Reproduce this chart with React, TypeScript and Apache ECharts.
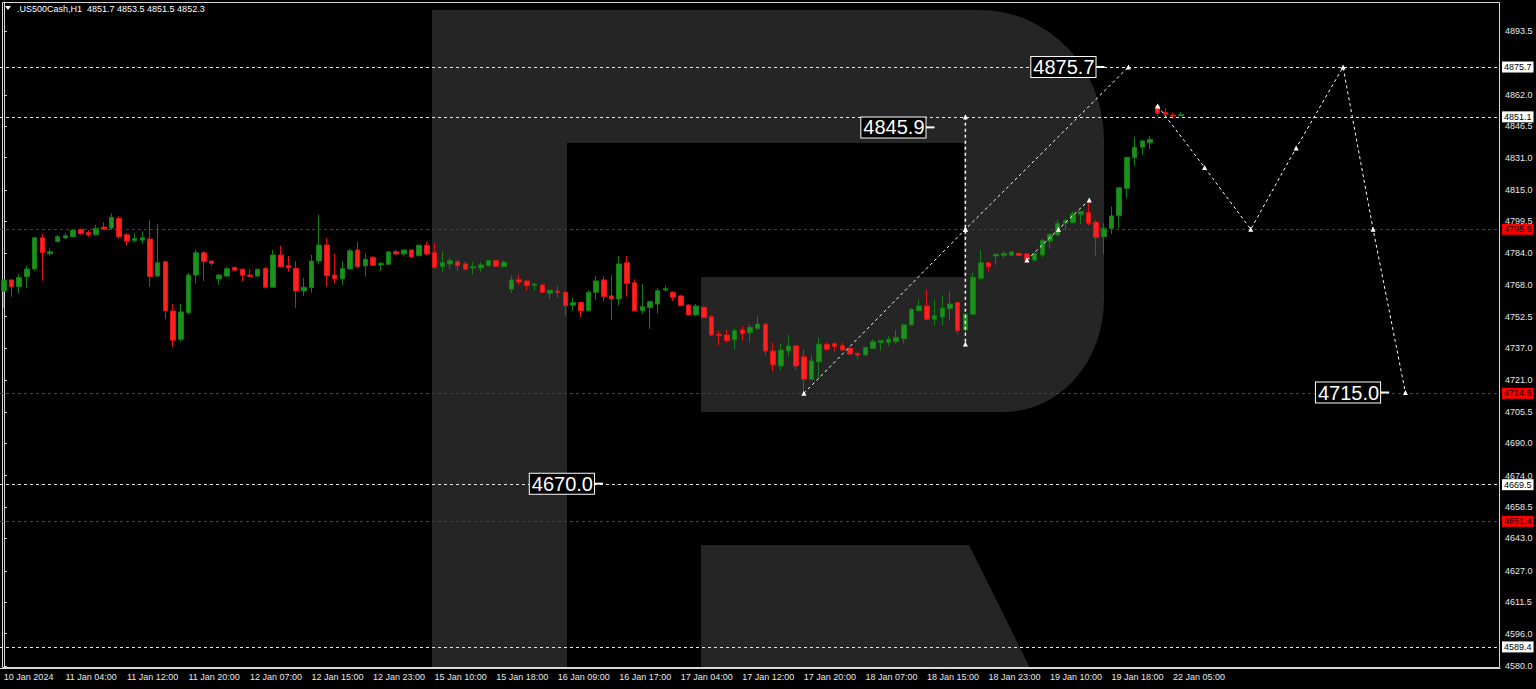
import React, { useEffect, useRef } from "react";
import * as echarts from "echarts";

// ---------- data ----------
const symbolName = ".US500Cash,H1";

// hourly bars: [open, high, low, close]
const bars: [number, number, number, number][] = [
  [4765.1, 4770.6, 4756.6, 4770.6], [4770.6, 4770.6, 4762.3, 4767.3], [4767.3, 4773.5, 4764.0, 4771.9],
  [4772.2, 4777.6, 4766.5, 4776.0], [4776.0, 4791.8, 4775.2, 4791.4], [4791.4, 4793.4, 4770.2, 4784.0],
  [4783.5, 4786.2, 4782.6, 4784.5], [4789.5, 4792.8, 4789.0, 4791.9], [4791.3, 4793.8, 4790.7, 4792.4],
  [4791.9, 4795.6, 4791.6, 4795.2], [4795.6, 4795.9, 4792.9, 4793.4], [4794.1, 4795.2, 4791.9, 4792.9],
  [4792.9, 4797.7, 4792.4, 4796.1], [4796.7, 4799.0, 4795.2, 4795.6], [4796.2, 4803.5, 4795.2, 4801.5],
  [4801.0, 4802.0, 4791.0, 4791.9], [4792.9, 4793.9, 4787.8, 4789.7], [4790.0, 4793.9, 4789.0, 4791.0],
  [4790.2, 4794.4, 4788.5, 4791.4], [4790.8, 4800.0, 4767.3, 4772.2], [4772.5, 4798.2, 4771.9, 4779.1],
  [4779.6, 4780.1, 4751.2, 4755.4], [4755.3, 4758.7, 4737.5, 4740.8], [4741.3, 4758.7, 4740.1, 4754.8],
  [4754.4, 4774.0, 4753.6, 4773.0], [4773.0, 4785.7, 4768.7, 4784.0], [4784.0, 4784.9, 4770.1, 4779.6],
  [4779.9, 4780.4, 4777.6, 4778.8], [4771.1, 4773.5, 4768.2, 4773.0], [4772.5, 4777.1, 4772.0, 4776.1],
  [4776.8, 4777.1, 4774.9, 4775.4], [4775.9, 4776.1, 4769.6, 4772.9], [4773.0, 4775.9, 4772.0, 4772.2],
  [4772.5, 4776.1, 4771.9, 4775.9], [4776.3, 4777.1, 4766.3, 4767.0], [4767.0, 4785.4, 4766.6, 4782.9],
  [4782.9, 4787.4, 4776.6, 4777.1], [4777.6, 4782.4, 4774.7, 4776.5], [4776.3, 4779.9, 4756.9, 4765.1],
  [4765.1, 4771.6, 4762.7, 4767.0], [4766.8, 4782.9, 4764.2, 4779.9], [4779.9, 4802.7, 4778.3, 4787.8],
  [4787.8, 4791.2, 4767.3, 4772.7], [4773.0, 4783.4, 4768.7, 4771.2], [4771.2, 4779.6, 4768.2, 4776.3],
  [4776.0, 4785.9, 4775.6, 4785.0], [4785.4, 4789.3, 4776.3, 4777.1], [4777.5, 4783.7, 4772.2, 4780.8],
  [4781.6, 4782.4, 4777.5, 4777.8], [4778.0, 4779.6, 4775.0, 4778.8], [4778.3, 4784.9, 4778.0, 4784.4],
  [4784.5, 4785.4, 4782.8, 4783.4], [4783.4, 4785.4, 4782.1, 4785.4], [4785.4, 4785.4, 4781.6, 4781.9],
  [4782.6, 4788.2, 4782.1, 4787.7], [4787.7, 4789.5, 4782.9, 4783.4], [4784.0, 4788.7, 4776.3, 4776.8],
  [4777.3, 4784.9, 4774.5, 4779.1], [4778.5, 4781.6, 4776.0, 4780.1], [4779.6, 4780.4, 4775.0, 4777.6],
  [4778.5, 4779.8, 4775.2, 4775.9], [4776.5, 4779.4, 4773.2, 4777.1], [4776.5, 4779.4, 4774.7, 4778.0],
  [4777.6, 4780.1, 4777.1, 4780.1], [4780.1, 4780.1, 4777.0, 4777.3], [4777.1, 4780.1, 4776.8, 4779.3],
  [4766.0, 4772.5, 4764.0, 4770.6], [4770.7, 4773.2, 4768.2, 4769.6], [4770.1, 4770.1, 4765.3, 4767.8],
  [4767.8, 4768.9, 4765.3, 4768.6], [4768.1, 4768.4, 4764.0, 4764.5], [4764.0, 4765.5, 4761.2, 4765.5],
  [4765.1, 4767.8, 4761.7, 4764.5], [4764.5, 4764.8, 4752.9, 4757.9], [4758.1, 4762.0, 4755.4, 4759.4],
  [4759.4, 4759.9, 4752.1, 4755.4], [4755.4, 4765.6, 4754.9, 4764.5], [4764.5, 4772.5, 4760.7, 4770.1],
  [4770.6, 4772.5, 4760.2, 4762.3], [4762.7, 4773.0, 4750.8, 4761.2], [4761.2, 4782.4, 4757.9, 4778.5],
  [4779.1, 4782.4, 4762.3, 4768.9], [4769.2, 4770.9, 4755.4, 4755.4], [4755.4, 4768.6, 4753.8, 4757.4],
  [4756.9, 4760.3, 4746.4, 4759.9], [4758.7, 4766.8, 4754.1, 4765.3], [4765.6, 4767.8, 4764.8, 4766.3],
  [4764.5, 4765.0, 4760.3, 4762.0], [4762.7, 4763.2, 4757.7, 4757.9], [4758.2, 4758.6, 4752.9, 4753.3],
  [4753.3, 4758.7, 4752.8, 4757.7], [4757.1, 4757.4, 4751.8, 4752.0], [4752.4, 4753.1, 4742.6, 4743.4],
  [4743.8, 4745.5, 4738.1, 4743.1], [4743.4, 4746.2, 4739.6, 4740.6], [4741.0, 4746.7, 4736.3, 4745.5],
  [4745.9, 4747.9, 4740.6, 4744.1], [4744.5, 4748.7, 4739.8, 4747.2], [4746.5, 4752.9, 4745.9, 4748.8],
  [4748.7, 4749.2, 4733.5, 4735.5], [4735.5, 4739.8, 4725.3, 4728.6], [4728.1, 4739.3, 4725.8, 4736.0],
  [4735.5, 4743.4, 4732.7, 4738.0], [4738.0, 4738.5, 4726.1, 4728.1], [4732.7, 4736.3, 4714.6, 4721.5],
  [4721.5, 4733.5, 4721.2, 4730.6], [4730.2, 4741.9, 4721.7, 4738.8], [4738.8, 4739.7, 4735.5, 4736.4],
  [4739.1, 4739.7, 4735.2, 4737.8], [4738.1, 4739.6, 4735.7, 4736.0], [4736.8, 4737.6, 4733.5, 4734.0],
  [4734.4, 4734.7, 4731.4, 4733.5], [4733.5, 4737.6, 4733.2, 4737.3], [4736.8, 4741.3, 4736.6, 4740.1],
  [4739.8, 4740.9, 4735.7, 4740.6], [4739.8, 4742.9, 4738.0, 4741.3], [4740.1, 4745.9, 4739.3, 4742.3],
  [4741.5, 4748.7, 4739.3, 4748.4], [4748.4, 4756.6, 4748.0, 4756.1], [4755.4, 4761.0, 4755.4, 4757.7],
  [4757.7, 4765.6, 4750.8, 4751.2], [4751.2, 4760.7, 4748.0, 4752.9], [4752.3, 4763.0, 4748.0, 4756.6],
  [4756.4, 4764.8, 4750.5, 4758.7], [4759.4, 4759.7, 4743.6, 4745.5], [4745.9, 4754.1, 4744.3, 4753.6],
  [4753.6, 4774.2, 4753.6, 4771.9], [4771.4, 4785.4, 4770.2, 4779.1], [4779.1, 4779.1, 4774.7, 4777.1],
  [4782.4, 4783.7, 4778.0, 4783.3], [4782.6, 4785.0, 4781.3, 4783.7], [4782.8, 4784.9, 4782.4, 4784.4],
  [4783.7, 4784.0, 4782.4, 4782.6], [4783.4, 4784.0, 4779.6, 4780.4], [4780.4, 4784.0, 4780.1, 4783.7],
  [4782.9, 4790.7, 4781.8, 4790.0], [4789.8, 4793.6, 4785.9, 4793.1], [4792.8, 4800.5, 4792.3, 4798.6],
  [4798.6, 4801.0, 4795.2, 4799.8], [4798.9, 4804.3, 4798.6, 4803.1], [4803.0, 4804.8, 4798.2, 4804.3],
  [4803.8, 4810.1, 4797.7, 4798.6], [4799.1, 4800.2, 4782.6, 4791.6], [4791.9, 4798.6, 4783.3, 4796.1],
  [4796.1, 4806.8, 4793.3, 4802.2], [4802.3, 4816.3, 4796.1, 4816.1], [4815.8, 4831.4, 4810.9, 4831.1],
  [4830.9, 4841.3, 4826.8, 4836.1], [4836.1, 4839.7, 4832.3, 4839.2], [4838.3, 4841.7, 4835.2, 4840.0],
  [4856.5, 4857.0, 4851.5, 4852.9], [4853.2, 4855.3, 4850.4, 4852.4], [4852.0, 4853.2, 4850.4, 4851.5],
  [4851.7, 4853.5, 4851.5, 4852.3],
];

// one x-axis label every 8 bars
const tickLabels = [
  "10 Jan 2024", "11 Jan 04:00", "11 Jan 12:00", "11 Jan 20:00", "12 Jan 07:00", "12 Jan 15:00",
  "12 Jan 23:00", "15 Jan 10:00", "15 Jan 18:00", "16 Jan 09:00", "16 Jan 17:00", "17 Jan 04:00",
  "17 Jan 12:00", "17 Jan 20:00", "18 Jan 07:00", "18 Jan 15:00", "18 Jan 23:00", "19 Jan 10:00",
  "19 Jan 18:00", "22 Jan 05:00",
];
const LABEL_STEP = 8;
const SLOT_COUNT = 195; // bars + empty future space

const yTickValues = [
  4893.5, 4862.0, 4846.5, 4831.0, 4815.0, 4799.5, 4784.0, 4768.0, 4752.5, 4737.0, 4721.0,
  4705.5, 4690.0, 4674.0, 4658.5, 4643.0, 4627.0, 4611.5, 4596.0, 4580.0,
];
const Y_MIN = 4579.0;
const Y_MAX = 4907.8;

// horizontal levels
const whiteLevels = [4875.7, 4851.1, 4669.5, 4589.4];
const redLevels = [4795.6, 4714.6, 4651.4];

// drawn trend / forecast paths: [bar index, price]
const trendUp = [[104, 4714.6], [125, 4795.6], [146.2, 4875.7]];
const trendVertical = [[125, 4851.1], [125, 4795.6], [125, 4739.0]];
const trendSmall = [[133, 4780.4], [137.1, 4795.6], [141.1, 4810.1]];
const forecastPath = [
  [150, 4856.5], [156.1, 4826.1], [162.1, 4795.6], [168, 4835.7],
  [174.1, 4875.7], [178, 4795.6], [182.2, 4715.0],
];
// price labels on chart: [bar index of label stub, price]
const priceLabels = [[142.5, 4875.7], [120.4, 4845.9], [179.5, 4715.0], [77.3, 4670.0]];

// ---------- logo shape ----------
const LOGO_D =
  "M432 10 H980 A124 130 0 0 1 1104 140 V300 A100 112 0 0 1 1004 412 H701 V277 H964 V143 H567 V668 H432 Z " +
  "M701 545 H969 L1030 668 H701 Z";
echarts.graphic.registerShape("rlogo", echarts.graphic.extendPath(LOGO_D, {}) as any);

const FONT = "Liberation Sans";

export default function App() {
  const ref = useRef<HTMLDivElement>(null);

  useEffect(() => {
    document.body.style.margin = "0";
    document.body.style.background = "#000";
    const chart = echarts.init(ref.current!, undefined, { renderer: "svg" });

    const categories = Array.from({ length: SLOT_COUNT }, (_, i) => String(i));
    const labelFor = (i: number) =>
      i % LABEL_STEP === 0 && i / LABEL_STEP < tickLabels.length ? tickLabels[i / LABEL_STEP] : "";
    const last = bars[bars.length - 1];

    const levelLine = (v: number, red: boolean) => ({
      yAxis: v,
      lineStyle: { color: red ? "#e00000" : "#e8e8e8", type: [3, 3], width: 1 },
      label: {
        show: true,
        position: "end",
        distance: 2,
        formatter: v.toFixed(1),
        backgroundColor: red ? "#ff0000" : "#ffffff",
        color: "#000",
        fontSize: 9,
        fontFamily: FONT,
        padding: [1, 2, 1, 2],
      },
    });

    const pathSeries = (data: number[][], width = 1) => ({
      type: "line",
      xAxisIndex: 1,
      yAxisIndex: 0,
      data,
      silent: true,
      z: 6,
      symbol: "triangle",
      symbolSize: 5,
      showSymbol: true,
      itemStyle: { color: "#ffffff" },
      lineStyle: { color: "#ffffff", width, type: [3, 3] },
    });

    chart.setOption({
      animation: false,
      backgroundColor: "#000",
      graphic: [
        { type: "rlogo", x: 0, y: 0, silent: true, z: 0, style: { fill: "#252525" } },
        {
          type: "rect",
          silent: true,
          z: 1,
          shape: { x: 2.5, y: 2.5, width: 1497, height: 665 },
          style: { fill: "transparent", stroke: "#d8d8d8", lineWidth: 1 },
        },
        {
          type: "polygon",
          silent: true,
          z: 10,
          shape: { points: [[5, 6], [11, 6], [8, 10]] },
          style: { fill: "#ffffff" },
        },
        {
          type: "text",
          silent: true,
          z: 10,
          x: 17,
          y: 9,
          style: {
            text: `${symbolName}  ${last[0].toFixed(1)} ${last[1].toFixed(1)} ${last[2].toFixed(1)} ${last[3].toFixed(1)}`,
            fill: "#ffffff",
            fontSize: 9,
            fontFamily: FONT,
            verticalAlign: "middle",
          },
        },
      ],
      grid: { left: 0, right: 36, top: 2, bottom: 21, containLabel: false },
      xAxis: [
        {
          type: "category",
          data: categories,
          boundaryGap: true,
          axisLine: { lineStyle: { color: "#d8d8d8" } },
          axisTick: {
            alignWithLabel: true,
            interval: (i: number) => labelFor(i) !== "",
            length: 3,
            lineStyle: { color: "#d8d8d8" },
          },
          axisLabel: {
            interval: (i: number) => labelFor(i) !== "",
            formatter: (_v: string, i: number) => labelFor(i),
            align: "left",
            color: "#e8e8e8",
            fontSize: 9,
            fontFamily: FONT,
            margin: 4,
          },
          splitLine: { show: false },
        },
        { type: "value", min: -0.5, max: SLOT_COUNT - 0.5, show: false },
      ],
      yAxis: {
        type: "value",
        position: "right",
        min: Y_MIN,
        max: Y_MAX,
        scale: true,
        axisLine: { show: true, lineStyle: { color: "#d8d8d8" } },
        axisTick: { show: true, length: 3, customValues: yTickValues, lineStyle: { color: "#d8d8d8" } },
        axisLabel: {
          customValues: yTickValues,
          formatter: (v: number) => v.toFixed(1),
          color: "#e8e8e8",
          fontSize: 9,
          fontFamily: FONT,
          margin: 5,
          hideOverlap: false,
        },
        splitLine: { show: false },
      },
      series: [
        {
          type: "candlestick",
          xAxisIndex: 0,
          yAxisIndex: 0,
          z: 3,
          barWidth: 5,
          data: bars.map(([o, h, l, c]) => [o, c, l, h]),
          itemStyle: {
            color: "#1c921c",
            color0: "#ff2020",
            borderColor: "#127d12",
            borderColor0: "#e01414",
            borderWidth: 1,
          },
          markLine: {
            silent: true,
            symbol: ["none", "none"],
            animation: false,
            data: [
              ...whiteLevels.map((v) => levelLine(v, false)),
              ...redLevels.map((v) => levelLine(v, true)),
            ],
          },
        },
        pathSeries(trendUp),
        pathSeries(trendVertical, 1.5),
        pathSeries(trendSmall),
        pathSeries(forecastPath),
        {
          type: "scatter",
          xAxisIndex: 1,
          yAxisIndex: 0,
          silent: true,
          z: 8,
          data: priceLabels,
          symbol: "rect",
          symbolSize: [9, 2],
          itemStyle: { color: "#ffffff", opacity: 1 },
          label: {
            show: true,
            position: "left",
            distance: 0,
            formatter: (p: any) => p.value[1].toFixed(1),
            color: "#ffffff",
            opacity: 1,
            fontSize: 20,
            fontFamily: FONT,
            lineHeight: 20,
            backgroundColor: "#000000",
            borderColor: "#ffffff",
            borderWidth: 1,
            padding: [0, 1, 0, 2],
          },
        },
      ],
    });

    return () => chart.dispose();
  }, []);

  return (
    <div
      ref={ref}
      style={{ position: "fixed", left: 0, top: 0, width: 1536, height: 689, background: "#000" }}
    />
  );
}
